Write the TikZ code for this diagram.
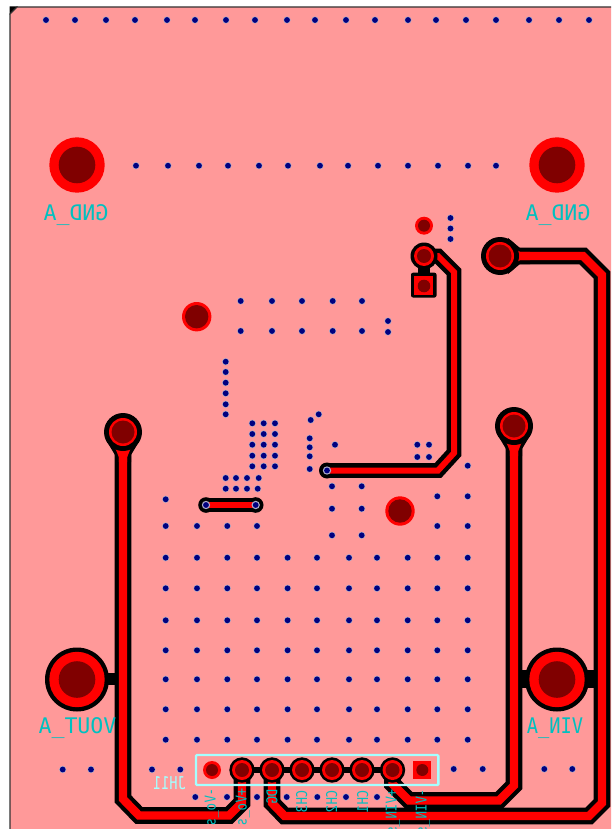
\documentclass[tikz,border=0pt]{standalone}
\usepackage{fontspec}
\newfontfamily\pcbfont{DejaVu Sans Mono}
\usetikzlibrary{calc}
\definecolor{boardpink}{RGB}{255,153,153}
\definecolor{holedark}{RGB}{128,0,0}
\definecolor{vianavy}{RGB}{0,0,128}
\definecolor{viaring}{RGB}{170,170,200}
\definecolor{silkcyan}{RGB}{0,192,192}
\definecolor{framecyan}{RGB}{165,255,255}
\tikzset{
  powertrack/.style={draw=black, line width=4.2pt, double=red, double distance=8.4pt, line join=miter},
  signaltrack/.style={draw=black, line width=4.4pt, double=red, double distance=6pt, line join=miter},
  silkbig/.style={text=silkcyan, font=\pcbfont\fontsize{21.5}{22}\selectfont, inner sep=0pt},
  silksmall/.style={text=silkcyan, font=\pcbfont\fontsize{12.4}{13}\selectfont, inner sep=0pt, anchor=west, rotate=90, xscale=-1, yscale=1.2},
}
\begin{document}
\begin{tikzpicture}[x=1pt,y=-1pt]
    \useasboundingbox (0,0) rectangle (611,829);
    \clip (0,0) rectangle (611,829);

    % Board
    \fill[black] (9.5,6.5) -- (18,6.5) -- (9.5,15) -- cycle;
    \draw[line width=1.3pt, black!80, fill=boardpink] (612,7) -- (17,7) -- (10,14) -- (10,830) -- (612,830);

    % Links from the big pads to the tracks
    \fill[black] (100,673) rectangle (123,685);
    \fill[black] (510,670) rectangle (530,688);
    \fill[black] (585,670) rectangle (604,688);
    \fill[black] (418,262) rectangle (430,275);
    \fill[black] (242,767) rectangle (392,773);

    % Teardrops under the round pads
    \foreach \px/\py in {123/432,514/426} {
        \fill[black] ($(\px,\py)+(-17,8)$) -- ($(\px,\py)+(-8,23)$) -- ($(\px,\py)+(-8,30)$) -- ($(\px,\py)+(8,30)$) -- ($(\px,\py)+(8,23)$) -- ($(\px,\py)+(17,8)$) -- cycle;
    }
    \fill[black] (508,238) -- (520,248) -- (530,248) -- (530,264) -- (520,264) -- (508,274) -- cycle;

    % Tracks
    \path[powertrack] (123,432) -- (123,799) -- (139,815.5) -- (229,815.5) -- (242,802.5) -- (242,770);
    \path[powertrack] (272,770) -- (272,803) -- (284.5,816) -- (589,816) -- (602,803) -- (602,275) -- (583,256) -- (500,256);
    \path[powertrack] (392.5,770) -- (392.5,784) -- (409,800.5) -- (499,800.5) -- (514,785.5) -- (514,426);
    \fill[black] (327,470.5) circle (8);
    \path[signaltrack] (327,470.5) -- (438,470.5) -- (454,453) -- (454,272) -- (438,256) -- (424,256);
    \fill[black] (206,505) circle (7.8);
    \fill[black] (255.7,505) circle (7.8);
    \path[signaltrack] (206,505) -- (255.7,505);

    % Teardrops in red
    \foreach \px/\py in {123/432,514/426} {
        \fill[red] ($(\px,\py)+(-11,8)$) -- ($(\px,\py)+(-4.2,25)$) -- ($(\px,\py)+(-4.2,30)$) -- ($(\px,\py)+(4.2,30)$) -- ($(\px,\py)+(4.2,25)$) -- ($(\px,\py)+(11,8)$) -- cycle;
    }
    \fill[red] (508,245) -- (520,251.8) -- (530,251.8) -- (530,260.2) -- (520,260.2) -- (508,267) -- cycle;

    % Big mounting pads
    \foreach \px/\py/\rb in {77/165/0,557/165/0,77/679.5/32,557/679.5/32} {
        \ifnum\rb>0 \fill[black] (\px,\py) circle (\rb); \fi
        \fill[red] (\px,\py) circle (27.7);
        \fill[holedark] (\px,\py) circle (18.3);
    }

    % Round pads on the tracks
    \foreach \px/\py in {123/432,514/426,500/256} {
        \fill[black] (\px,\py) circle (19);
        \fill[red] (\px,\py) circle (14);
        \fill[holedark] (\px,\py) circle (11.5);
    }

    % Free pads
    \foreach \px/\py in {196.7/316.7,400/511} {
        \fill[red] (\px,\py) circle (14.7);
        \fill[holedark] (\px,\py) circle (11.7);
    }
    \fill[red] (424,225.7) circle (9);
    \fill[holedark] (424,225.7) circle (6);

    % Small pad with square partner
    \fill[black] (424,256) circle (13.5);
    \fill[red] (424,256) circle (10);
    \fill[holedark] (424,256) circle (7);
    \fill[black, rounded corners=2pt] (411,272.7) rectangle (436.5,297.5);
    \fill[red] (414.3,275.8) rectangle (433.3,295);
    \fill[holedark] (424,286) circle (6.3);

    % Header
    \fill[red] (212,770) circle (9);
    \fill[holedark] (212,770) circle (6);
    \foreach \x in {242,272,302,332,362,392.5} {
        \fill[black] (\x,770) circle (12.7);
        \fill[red] (\x,770) circle (10);
        \fill[holedark] (\x,770) circle (7);
    }
    \fill[red] (413.4,761) rectangle (431.2,779);
    \fill[holedark] (422.3,770) circle (6);
    \draw[line width=2.4pt, framecyan, rounded corners=1pt] (196,755) rectangle (438.3,785);

    % Vias
    \foreach \x in {46,75,106,135,167,195,226,255,287,315,346,375,408,436,466,496,529,559,589} {
        \fill[viaring] (\x,20) circle (3.6);
        \fill[vianavy] (\x,20) circle (2.9);
    }
    \foreach \x in {136,168,199,228,259,288,320,348,378,408,438,468,496} {
        \fill[viaring] (\x,165.7) circle (3.6);
        \fill[vianavy] (\x,165.7) circle (2.9);
    }
    \foreach \y in {557.7,588.3,620.3,650.3,679.3,709.3,739.7} {
        \foreach \x in {165.7,197,227.3,257,287.6,317,349,377,407.7,437.3,467.7} {
            \fill[viaring] (\x,\y) circle (3.6);
            \fill[vianavy] (\x,\y) circle (2.9);
        }
    }
    \foreach \y in {423.3,434,444.7,455.7,466.3} {
        \foreach \x in {252.3,263.7,275} {
            \fill[viaring] (\x,\y) circle (3.6);
            \fill[vianavy] (\x,\y) circle (2.9);
        }
    }
    \foreach \x/\y in {450.5/218,450.5/228.5,450.5/239,
        240.7/301,272/301,302/301,332.7/301,362/301,
        240.7/331,272/331,302/331,332.7/331,362/331,388/321,388/332,
        225.7/361.7,225.7/372,225.7/382.7,225.7/393.3,225.7/404.3,225.7/414.3,
        225.7/478,236/478,247/478,258.7/478,225.7/488.7,236/488.7,247/488.7,257.7/488.7,
        165.7/499.3,165.7/526,197/526,227.3/526,257/526,
        310.7/420,318.7/414.3,309.7/438.3,309.7/447.3,309.7/456.3,309.7/469,335/444.7,
        417.3/444.7,429/444.7,417.3/457,429/457,467.7/465.7,
        332/486.3,361.7/486.3,437.3/496.3,467.7/496.3,332/508.7,361.7/508.7,
        437.3/526,467.7/526,332/535.3,361.7/535.3,
        62.7/769.5,91/769.5,152/769.5,180.3/769.5,453.7/769,482.7/769,544.3/769,572.3/769,
        195.3/797,227/797,257/797,286.7/797,317.3/797,346/797,377/797} {
        \fill[viaring] (\x,\y) circle (3.6);
        \fill[vianavy] (\x,\y) circle (2.9);
    }
    % Vias on the track ends
    \foreach \x/\y in {327/470.5,206/505,255.7/505} {
        \fill[viaring] (\x,\y) circle (4.2);
        \fill[vianavy] (\x,\y) circle (2.9);
    }

    % Mirrored silk labels
    \node[silkbig, xscale=-1] (gndleft) at (76,215) {GND\_A};
    \node[silkbig, xscale=-1] (gndright) at (558,215) {GND\_A};
    \node[silkbig, xscale=-1] (voutlabel) at (77.5,728) {VOUT\_A};
    \node[silkbig, xscale=-0.87] (vinlabel) at (555,728) {VIN\_A};
    \node[text=framecyan, font=\pcbfont\fontsize{13.6}{14}\selectfont, inner sep=0pt, xscale=-1, yscale=1.3] (jhlabel) at (169.5,783.5) {JH11};

    % Header pin names
    \node[silksmall] (pinvom) at (212,788) {-Vo\_s};
    \node[silksmall] (pinvop) at (243,788) {+Vo\_s};
    \node[silksmall] (pindg) at (272,789) {DG};
    \node[silksmall] (pinthree) at (301.7,790) {CH3};
    \node[silksmall] (pintwo) at (331.7,790) {CH2};
    \node[silksmall] (pinone) at (362.7,790) {CH1};
    \node[silksmall] (pinvinp) at (393,789) {+VIN\_s};
    \node[silksmall] (pinvinm) at (423,789) {-VIN\_s};
\end{tikzpicture}
\end{document}
